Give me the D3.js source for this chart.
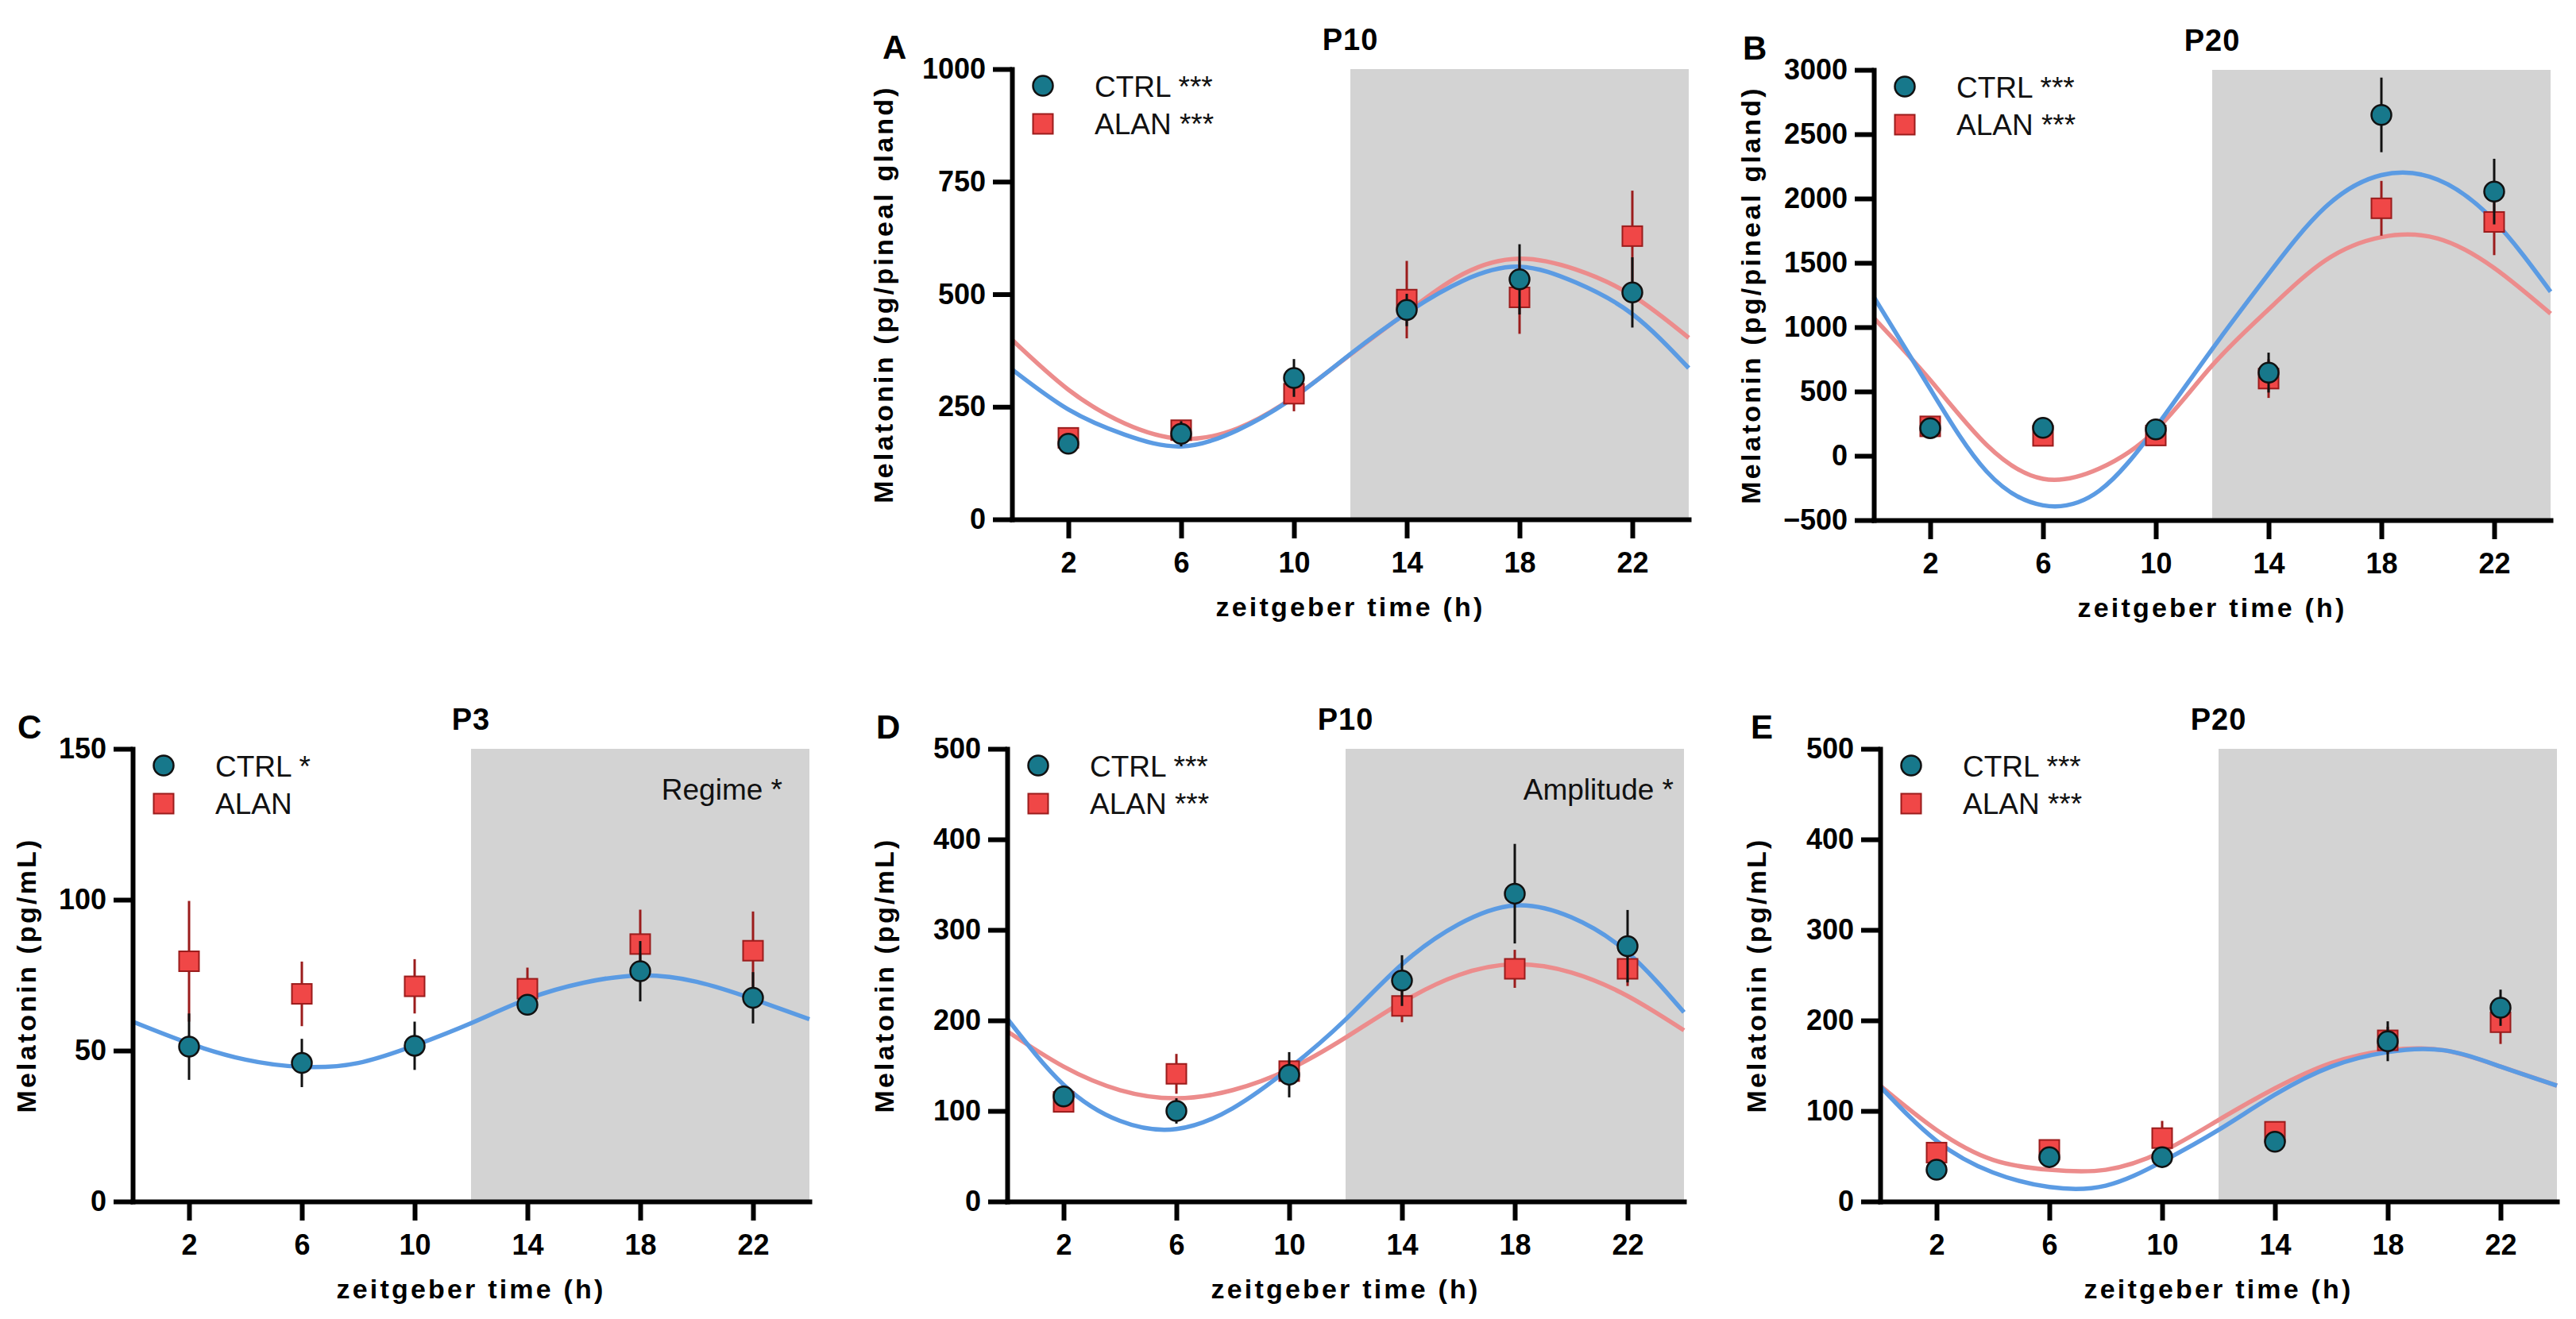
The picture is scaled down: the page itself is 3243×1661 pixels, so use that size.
<!DOCTYPE html>
<html>
<head>
<meta charset="utf-8">
<script src="https://cdn.jsdelivr.net/npm/d3@7"></script>
<style>
body { margin: 0; background: #fff; }
text { font-family: "Liberation Sans", Arial, sans-serif; }
</style>
</head>
<body>
<script>
var w = 3243;
var h = 1661;
var plotW = 852;

// sampling times (zeitgeber time, h)
var hours = [2, 6, 10, 14, 18, 22];
var fitHours = [0, 2, 4, 6, 8, 10, 12, 14, 16, 18, 20, 22, 24];

// A - P10 pineal gland
var p10PinealCtrl = [168, 190, 314, 465, 533, 504];
var p10PinealCtrlErr = [10, 28, 42, 36, 78, 78];
var p10PinealAlan = [181, 198, 279, 488, 493, 629];
var p10PinealAlanErr = [8, 22, 39, 86, 81, 101];
var p10PinealCtrlFit = [333, 244, 188, 162, 198, 271, 367, 458, 530, 561, 526, 456, 336];
var p10PinealAlanFit = [399, 288, 213, 179, 202, 272, 366, 460, 545, 579, 555, 497, 403];

// B - P20 pineal gland
var p20PinealCtrl = [215, 218, 205, 647, 2650, 2054];
var p20PinealCtrlErr = [25, 20, 20, 155, 290, 255];
var p20PinealAlan = [229, 155, 158, 600, 1924, 1818];
var p20PinealAlanErr = [15, 15, 15, 150, 213, 258];
var p20PinealCtrlFit = [1235, 520, -122, -385, -271, 222, 830, 1414, 1930, 2182, 2147, 1826, 1276];
var p20PinealAlanFit = [1072, 589, 85, -179, -99, 199, 703, 1139, 1517, 1700, 1689, 1460, 1105];

// C - P3 plasma
var p3PlasmaCtrl = [51.3, 45.9, 51.6, 65.2, 76.3, 67.5];
var p3PlasmaCtrlErr = [11, 8, 8, 2.5, 10, 8.5];
var p3PlasmaAlan = [79.6, 68.8, 71.3, 70.5, 85.3, 83.1];
var p3PlasmaAlanErr = [20, 10.7, 9, 7, 11.4, 13];
var p3PlasmaCtrlFit = [59.6, 52.4, 47.0, 44.6, 45.9, 51.7, 59.1, 67.1, 72.5, 74.9, 72.8, 67.1, 60.4];

// D - P10 plasma
var p10PlasmaCtrl = [116, 100, 140, 244, 340, 282];
var p10PlasmaCtrlErr = [5, 14, 25, 28, 55, 40];
var p10PlasmaAlan = [110, 141, 144, 216, 257, 257];
var p10PlasmaAlanErr = [5, 22, 8, 18, 21, 19];
var p10PlasmaCtrlFit = [202, 129, 89, 80, 103, 147, 201, 262, 306, 327, 314, 275, 209];
var p10PlasmaAlanFit = [188, 149, 123, 114, 123, 146, 181, 220, 250, 262, 253, 227, 189];

// E - P20 plasma
var p20PlasmaCtrl = [35, 49, 49, 66, 177, 214];
var p20PlasmaCtrlErr = [7, 7, 5, 5, 22, 20];
var p20PlasmaAlan = [54, 57, 70, 77, 178, 198];
var p20PlasmaAlanErr = [10, 6, 19, 9, 15, 24];
var p20PlasmaCtrlFit = [127, 67, 32, 16, 17.5, 44, 79, 118, 149, 165, 167, 149, 128];
var p20PlasmaAlanFit = [128, 79, 46, 35, 35, 55, 90, 125, 153, 167, 167, 149, 128];

// tick labels
var pinealP10Ticks = [0, 250, 500, 750, 1000];
var pinealP20Ticks = [-500, 0, 500, 1000, 1500, 2000, 2500, 3000];
var plasmaP3Ticks = [0, 50, 100, 150];
var plasmaTicks = [0, 100, 200, 300, 400, 500];

var panels = [
  {letter: "A", title: "P10", left: 1274, top: 87, bottom: 654, letterX: 1111, ylabOff: 150,
   yDomain: [0, 1000], yTicks: pinealP10Ticks, yLabel: "Melatonin (pg/pineal gland)",
   ctrl: p10PinealCtrl, ctrlErr: p10PinealCtrlErr, alan: p10PinealAlan, alanErr: p10PinealAlanErr,
   ctrlFit: p10PinealCtrlFit, alanFit: p10PinealAlanFit, ctrlTag: "CTRL ***", alanTag: "ALAN ***"},
  {letter: "B", title: "P20", left: 2359, top: 88, bottom: 655, letterX: 2194, ylabOff: 143,
   yDomain: [-500, 3000], yTicks: pinealP20Ticks, yLabel: "Melatonin (pg/pineal gland)",
   ctrl: p20PinealCtrl, ctrlErr: p20PinealCtrlErr, alan: p20PinealAlan, alanErr: p20PinealAlanErr,
   ctrlFit: p20PinealCtrlFit, alanFit: p20PinealAlanFit, ctrlTag: "CTRL ***", alanTag: "ALAN ***"},
  {letter: "C", title: "P3", left: 167, top: 943, bottom: 1513, letterX: 22, ylabOff: 122,
   yDomain: [0, 150], yTicks: plasmaP3Ticks, yLabel: "Melatonin (pg/mL)",
   ctrl: p3PlasmaCtrl, ctrlErr: p3PlasmaCtrlErr, alan: p3PlasmaAlan, alanErr: p3PlasmaAlanErr,
   ctrlFit: p3PlasmaCtrlFit, alanFit: null, ctrlTag: "CTRL *", alanTag: "ALAN",
   note: "Regime *", noteOff: 34},
  {letter: "D", title: "P10", left: 1268, top: 943, bottom: 1513, letterX: 1103, ylabOff: 143,
   yDomain: [0, 500], yTicks: plasmaTicks, yLabel: "Melatonin (pg/mL)",
   ctrl: p10PlasmaCtrl, ctrlErr: p10PlasmaCtrlErr, alan: p10PlasmaAlan, alanErr: p10PlasmaAlanErr,
   ctrlFit: p10PlasmaCtrlFit, alanFit: p10PlasmaAlanFit, ctrlTag: "CTRL ***", alanTag: "ALAN ***",
   note: "Amplitude *", noteOff: 13},
  {letter: "E", title: "P20", left: 2367, top: 943, bottom: 1513, letterX: 2204, ylabOff: 144,
   yDomain: [0, 500], yTicks: plasmaTicks, yLabel: "Melatonin (pg/mL)",
   ctrl: p20PlasmaCtrl, ctrlErr: p20PlasmaCtrlErr, alan: p20PlasmaAlan, alanErr: p20PlasmaAlanErr,
   ctrlFit: p20PlasmaCtrlFit, alanFit: p20PlasmaAlanFit, ctrlTag: "CTRL ***", alanTag: "ALAN ***"}
];

var ctrlFill = "#17788b", alanFill = "#f04747", alanStroke = "#9b1c1c";
var ctrlLine = "#5b9be3", alanLine = "#ec8c8c";

var svg = d3.select("body")
      .append("svg")
      .attr("width", w)
      .attr("height", h);

panels.forEach(function(p) {
  var x = d3.scaleLinear().domain([0, 24]).range([p.left, p.left + plotW]);
  var y = d3.scaleLinear().domain(p.yDomain).range([p.bottom, p.top]);
  var g = svg.append("g");

  // dark phase
  g.append("rect")
     .attr("x", x(12))
     .attr("y", y(p.yDomain[1]))
     .attr("width", x(24) - x(12))
     .attr("height", y(p.yDomain[0]) - y(p.yDomain[1]))
     .attr("fill", "#d3d3d3");

  var line = d3.line()
     .x(function(d) { return x(d[0]); })
     .y(function(d) { return y(d[1]); })
     .curve(d3.curveNatural);

  if (p.alanFit) {
    g.append("path")
       .attr("d", line(d3.zip(fitHours, p.alanFit)))
       .attr("fill", "none")
       .attr("stroke", alanLine)
       .attr("stroke-width", 5.5);
  }
  g.append("path")
     .attr("d", line(d3.zip(fitHours, p.ctrlFit)))
     .attr("fill", "none")
     .attr("stroke", ctrlLine)
     .attr("stroke-width", 5.5);

  // ALAN error bars + squares
  g.selectAll(".alanErr")
     .data(d3.zip(hours, p.alan, p.alanErr))
     .enter()
     .append("line")
     .attr("x1", function(d) { return x(d[0]); })
     .attr("x2", function(d) { return x(d[0]); })
     .attr("y1", function(d) { return y(d[1] - d[2]); })
     .attr("y2", function(d) { return y(d[1] + d[2]); })
     .attr("stroke", alanStroke)
     .attr("stroke-width", 3);

  g.selectAll(".alanPt")
     .data(d3.zip(hours, p.alan))
     .enter()
     .append("rect")
     .attr("x", function(d) { return x(d[0]) - 12.5; })
     .attr("y", function(d) { return y(d[1]) - 12.5; })
     .attr("width", 25)
     .attr("height", 25)
     .attr("fill", alanFill)
     .attr("stroke", alanStroke)
     .attr("stroke-width", 2);

  // CTRL error bars + circles
  g.selectAll(".ctrlErr")
     .data(d3.zip(hours, p.ctrl, p.ctrlErr))
     .enter()
     .append("line")
     .attr("x1", function(d) { return x(d[0]); })
     .attr("x2", function(d) { return x(d[0]); })
     .attr("y1", function(d) { return y(d[1] - d[2]); })
     .attr("y2", function(d) { return y(d[1] + d[2]); })
     .attr("stroke", "#111")
     .attr("stroke-width", 3);

  g.selectAll(".ctrlPt")
     .data(d3.zip(hours, p.ctrl))
     .enter()
     .append("circle")
     .attr("cx", function(d) { return x(d[0]); })
     .attr("cy", function(d) { return y(d[1]); })
     .attr("r", 12.5)
     .attr("fill", ctrlFill)
     .attr("stroke", "#111")
     .attr("stroke-width", 2.5);

  // axes
  var xAxis = d3.axisBottom(x).tickValues(hours).tickSize(24).tickPadding(17).tickSizeOuter(0);
  var yAxis = d3.axisLeft(y).tickValues(p.yTicks).tickSize(24).tickPadding(9).tickSizeOuter(0)
                .tickFormat(d3.format("d"));

  var gx = g.append("g")
     .attr("transform", "translate(0," + p.bottom + ")")
     .call(xAxis);
  var gy = g.append("g")
     .attr("transform", "translate(" + p.left + ",0)")
     .call(yAxis);

  [gx, gy].forEach(function(a) {
    a.select(".domain").attr("stroke", "#000").attr("stroke-width", 6).attr("stroke-linecap", "square");
    a.selectAll(".tick line").attr("stroke", "#000").attr("stroke-width", 6);
    a.selectAll(".tick text")
       .attr("fill", "#000")
       .attr("font-size", 36)
       .attr("font-weight", "bold")
       .attr("font-family", "Liberation Sans, Arial, sans-serif");
  });

  // titles
  g.append("text")
     .text(p.title)
     .attr("x", p.left + plotW / 2)
     .attr("y", p.top - 24)
     .attr("text-anchor", "middle")
     .attr("font-size", 38)
     .attr("font-weight", "bold")
     .attr("letter-spacing", 1);

  g.append("text")
     .text(p.letter)
     .attr("x", p.letterX)
     .attr("y", p.top - 13)
     .attr("font-size", 42)
     .attr("font-weight", "bold");

  g.append("text")
     .text(p.yLabel)
     .attr("transform", "translate(" + (p.left - p.ylabOff) + "," + ((p.top + p.bottom) / 2) + ") rotate(-90)")
     .attr("text-anchor", "middle")
     .attr("font-size", 34)
     .attr("font-weight", "bold")
     .attr("letter-spacing", 3.2);

  g.append("text")
     .text("zeitgeber time (h)")
     .attr("x", p.left + plotW / 2)
     .attr("y", p.bottom + 122)
     .attr("text-anchor", "middle")
     .attr("font-size", 34)
     .attr("font-weight", "bold")
     .attr("letter-spacing", 3.2);

  // legend
  var lx = p.left + 39;
  g.append("circle")
     .attr("cx", lx).attr("cy", p.top + 21).attr("r", 12.5)
     .attr("fill", ctrlFill).attr("stroke", "#111").attr("stroke-width", 2.5);
  g.append("rect")
     .attr("x", lx - 12.5).attr("y", p.top + 69 - 12.5).attr("width", 25).attr("height", 25)
     .attr("fill", alanFill).attr("stroke", alanStroke).attr("stroke-width", 2);
  g.append("text")
     .text(p.ctrlTag)
     .attr("x", p.left + 104).attr("y", p.top + 35)
     .attr("font-size", 37).attr("fill", "#111");
  g.append("text")
     .text(p.alanTag)
     .attr("x", p.left + 104).attr("y", p.top + 82)
     .attr("font-size", 37).attr("fill", "#111");

  if (p.note) {
    g.append("text")
       .text(p.note)
       .attr("x", p.left + plotW - p.noteOff)
       .attr("y", p.top + 64)
       .attr("text-anchor", "end")
       .attr("font-size", 37)
       .attr("fill", "#111");
  }
});
</script>
</body>
</html>
